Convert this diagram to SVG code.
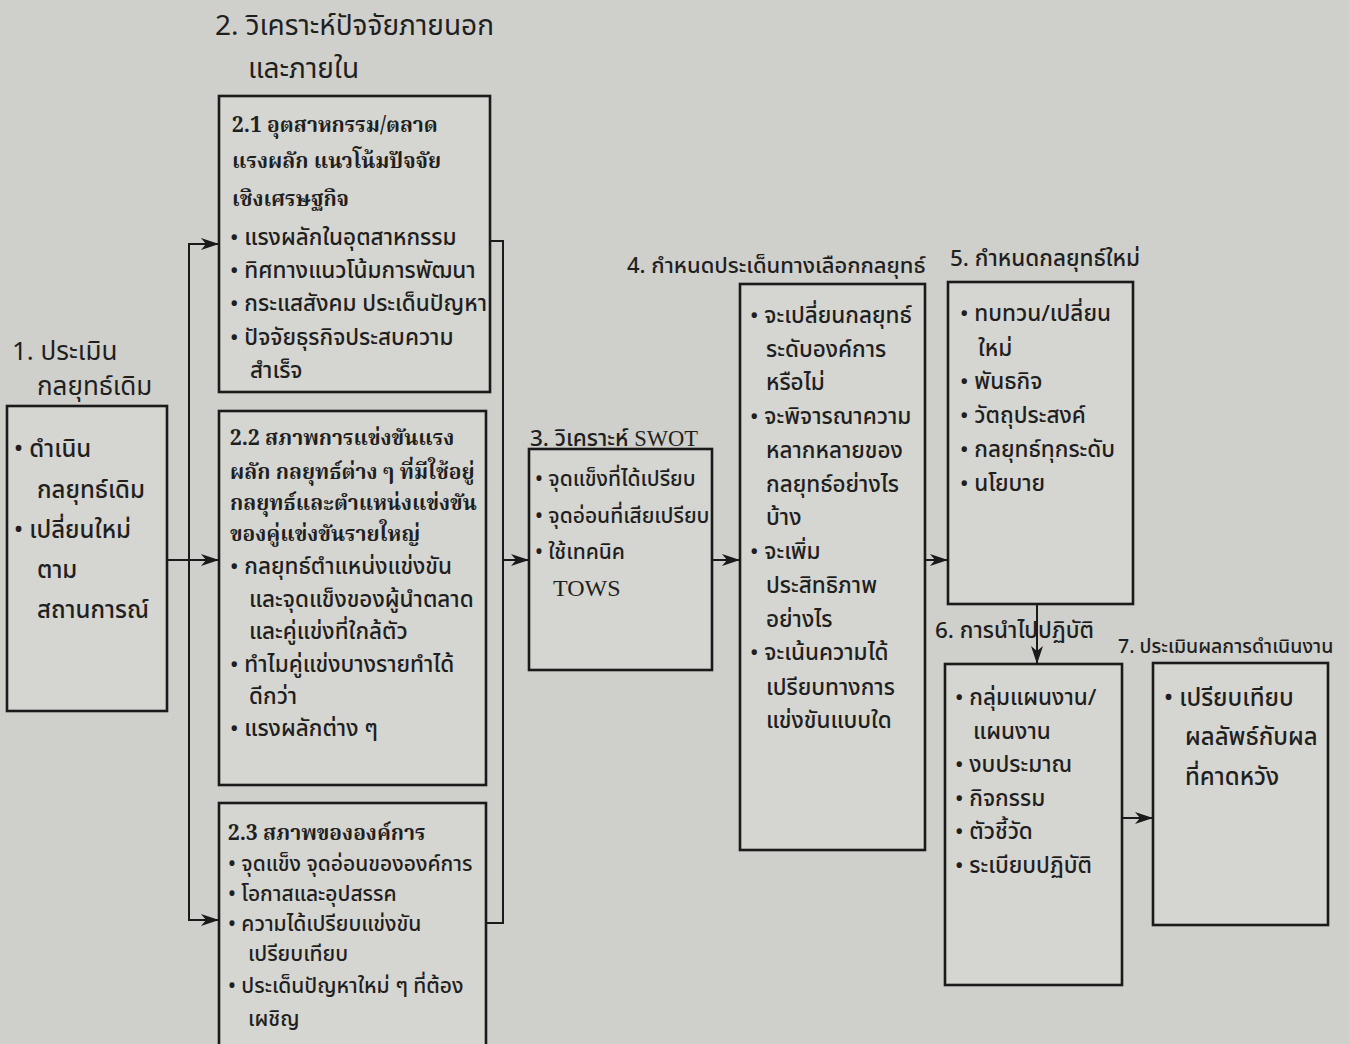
<svg xmlns="http://www.w3.org/2000/svg" width="1349" height="1044" viewBox="0 0 1349 1044">
  <defs>
    <marker id="arrow" viewBox="0 0 18 12" refX="17" refY="6" markerWidth="18" markerHeight="12" markerUnits="userSpaceOnUse" orient="auto">
      <path d="M0,0 L18,6 L0,12 L5,6 Z" fill="#1a1a1a"/>
    </marker>
    <style>
      .box { fill: #d5d5d1; stroke: #1a1a1a; stroke-width: 2.6; }
      .link { fill: none; stroke: #1a1a1a; stroke-width: 2; }
      text { font-family: "Noto Sans Thai", "Noto Sans", "DejaVu Sans", sans-serif; fill: #1f1f1f; font-weight: 500; }
      .title { font-size: 26px; font-weight: 400; }
      .title-lg { font-size: 28px; font-weight: 400; }
      .item { font-size: 22.5px; }
      .label { font-size: 22px; }
      .item2 { font-size: 21px; }
      .mid { font-size: 21px; }
      .big { font-size: 24px; }
      .head { font-family: "Noto Serif Thai", "Liberation Serif", serif; font-size: 21px; font-weight: bold; }
      .small { font-size: 19.5px; }
      .serif { font-family: "Liberation Serif", serif; font-weight: 400; }
    </style>
  </defs>

  <rect x="0" y="0" width="1349" height="1044" fill="#cfcfcb"/>

  <!-- step 1 -->
  <g id="step1">
    <text class="title" x="12" y="360">1. ประเมิน</text>
    <text class="title" x="37" y="395">กลยุทธ์เดิม</text>
    <rect class="box" x="7" y="406" width="160" height="305"/>
    <text class="big" x="14" y="457">• ดำเนิน</text>
    <text class="big" x="37" y="498">กลยุทธ์เดิม</text>
    <text class="big" x="14" y="538">• เปลี่ยนใหม่</text>
    <text class="big" x="37" y="578">ตาม</text>
    <text class="big" x="37" y="618">สถานการณ์</text>
  </g>

  <!-- step 2 heading -->
  <g id="step2">
    <text class="title-lg" x="215" y="35">2. วิเคราะห์ปัจจัยภายนอก</text>
    <text class="title-lg" x="248" y="78">และภายใน</text>
  </g>

  <!-- 2.1 -->
  <g id="step2-1">
    <rect class="box" x="219" y="96" width="271" height="296"/>
    <text class="head" x="232" y="132">2.1 อุตสาหกรรม/ตลาด</text>
    <text class="head" x="232" y="168">แรงผลัก แนวโน้มปัจจัย</text>
    <text class="head" x="232" y="206">เชิงเศรษฐกิจ</text>
    <text class="item" x="230" y="245">• แรงผลักในอุตสาหกรรม</text>
    <text class="item" x="230" y="278">• ทิศทางแนวโน้มการพัฒนา</text>
    <text class="item" x="230" y="311">• กระแสสังคม ประเด็นปัญหา</text>
    <text class="item" x="230" y="345">• ปัจจัยธุรกิจประสบความ</text>
    <text class="item" x="250" y="378">สำเร็จ</text>
  </g>

  <!-- 2.2 -->
  <g id="step2-2">
    <rect class="box" x="219" y="411" width="267" height="374"/>
    <text class="head" x="230" y="445">2.2 สภาพการแข่งขันแรง</text>
    <text class="head" x="230" y="479">ผลัก กลยุทธ์ต่าง ๆ ที่มีใช้อยู่</text>
    <text class="head" x="230" y="510">กลยุทธ์และตำแหน่งแข่งขัน</text>
    <text class="head" x="230" y="541">ของคู่แข่งขันรายใหญ่</text>
    <text class="item" x="230" y="574">• กลยุทธ์ตำแหน่งแข่งขัน</text>
    <text class="item" x="249" y="607">และจุดแข็งของผู้นำตลาด</text>
    <text class="item" x="249" y="639">และคู่แข่งที่ใกล้ตัว</text>
    <text class="item" x="230" y="672">• ทำไมคู่แข่งบางรายทำได้</text>
    <text class="item" x="249" y="704">ดีกว่า</text>
    <text class="item" x="230" y="736">• แรงผลักต่าง ๆ</text>
  </g>

  <!-- 2.3 -->
  <g id="step2-3">
    <rect class="box" x="219" y="803" width="267" height="250"/>
    <text class="head" x="228" y="840">2.3 สภาพขององค์การ</text>
    <text class="item2" x="228" y="871">• จุดแข็ง จุดอ่อนขององค์การ</text>
    <text class="item2" x="228" y="901">• โอกาสและอุปสรรค</text>
    <text class="item2" x="228" y="931">• ความได้เปรียบแข่งขัน</text>
    <text class="item2" x="248" y="961">เปรียบเทียบ</text>
    <text class="item2" x="228" y="993">• ประเด็นปัญหาใหม่ ๆ ที่ต้อง</text>
    <text class="item2" x="248" y="1026">เผชิญ</text>
  </g>

  <!-- step 3 -->
  <g id="step3">
    <text class="item" x="530" y="446">3. วิเคราะห์ <tspan class="serif">SWOT</tspan></text>
    <rect class="box" x="529" y="449" width="183" height="221"/>
    <text class="mid" x="535" y="486">• จุดแข็งที่ได้เปรียบ</text>
    <text class="mid" x="535" y="523">• จุดอ่อนที่เสียเปรียบ</text>
    <text class="mid" x="535" y="559">• ใช้เทคนิค</text>
    <text class="serif" x="553" y="596" font-size="24">TOWS</text>
  </g>

  <!-- step 4 -->
  <g id="step4">
    <text class="label" x="627" y="273">4. กำหนดประเด็นทางเลือกกลยุทธ์</text>
    <rect class="box" x="740" y="284" width="185" height="566"/>
    <text class="item" x="750" y="323">• จะเปลี่ยนกลยุทธ์</text>
    <text class="item" x="766" y="357">ระดับองค์การ</text>
    <text class="item" x="766" y="390">หรือไม่</text>
    <text class="item" x="750" y="424">• จะพิจารณาความ</text>
    <text class="item" x="766" y="458">หลากหลายของ</text>
    <text class="item" x="766" y="492">กลยุทธ์อย่างไร</text>
    <text class="item" x="766" y="525">บ้าง</text>
    <text class="item" x="750" y="559">• จะเพิ่ม</text>
    <text class="item" x="766" y="593">ประสิทธิภาพ</text>
    <text class="item" x="766" y="627">อย่างไร</text>
    <text class="item" x="750" y="660">• จะเน้นความได้</text>
    <text class="item" x="766" y="695">เปรียบทางการ</text>
    <text class="item" x="766" y="728">แข่งขันแบบใด</text>
  </g>

  <!-- step 5 -->
  <g id="step5">
    <text class="item" x="950" y="266">5. กำหนดกลยุทธ์ใหม่</text>
    <rect class="box" x="948" y="282" width="185" height="322"/>
    <text class="item" x="960" y="321">• ทบทวน/เปลี่ยน</text>
    <text class="item" x="978" y="356">ใหม่</text>
    <text class="item" x="960" y="389">• พันธกิจ</text>
    <text class="item" x="960" y="423">• วัตถุประสงค์</text>
    <text class="item" x="960" y="457">• กลยุทธ์ทุกระดับ</text>
    <text class="item" x="960" y="491">• นโยบาย</text>
  </g>

  <!-- step 6 -->
  <g id="step6">
    <text class="item" x="935" y="638">6. การนำไปปฏิบัติ</text>
    <rect class="box" x="945" y="664" width="177" height="321"/>
    <text class="item" x="955" y="705">• กลุ่มแผนงาน/</text>
    <text class="item" x="973" y="739">แผนงาน</text>
    <text class="item" x="955" y="772">• งบประมาณ</text>
    <text class="item" x="955" y="806">• กิจกรรม</text>
    <text class="item" x="955" y="839">• ตัวชี้วัด</text>
    <text class="item" x="955" y="873">• ระเบียบปฏิบัติ</text>
  </g>

  <!-- step 7 -->
  <g id="step7">
    <text class="small" x="1118" y="653">7. ประเมินผลการดำเนินงาน</text>
    <rect class="box" x="1153" y="663" width="175" height="262"/>
    <text class="big" x="1164" y="706">• เปรียบเทียบ</text>
    <text class="big" x="1185" y="745">ผลลัพธ์กับผล</text>
    <text class="big" x="1185" y="785">ที่คาดหวัง</text>
  </g>

  <!-- connectors -->
  <g id="connectors">
    <path class="link" d="M167,560 H218" marker-end="url(#arrow)"/>
    <path class="link" d="M218,244 H189 V920 H218" marker-end="url(#arrow)"/>
    <path class="link" d="M189,244 H218" marker-end="url(#arrow)"/>
    <path class="link" d="M490,241 H503 V923 H486"/>
    <path class="link" d="M503,560 H528" marker-end="url(#arrow)"/>
    <path class="link" d="M712,560 H739" marker-end="url(#arrow)"/>
    <path class="link" d="M925,560 H947" marker-end="url(#arrow)"/>
    <path class="link" d="M1037,604 V663" marker-end="url(#arrow)"/>
    <path class="link" d="M1122,818 H1152" marker-end="url(#arrow)"/>
  </g>
</svg>
